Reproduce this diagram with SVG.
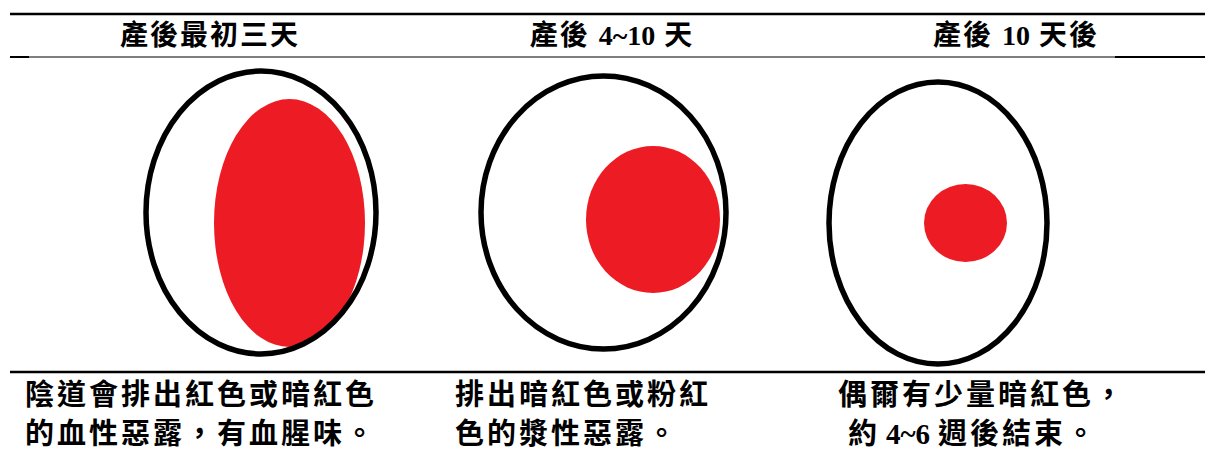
<svg xmlns="http://www.w3.org/2000/svg" width="1205" height="450" viewBox="0 0 1205 450">
<style>
.rule{stroke:#000;fill:none}
.outer{fill:none;stroke:#000;stroke-width:5.5}
.red{fill:#ED1C24}
.hd{font-family:"Liberation Serif","Noto Sans CJK TC",serif;font-weight:bold;font-size:28px;letter-spacing:2px;fill:#000}
.tx{font-family:"Liberation Serif","Noto Sans CJK TC",serif;font-weight:bold;font-size:29px;letter-spacing:3px;fill:#000}
.num{letter-spacing:0}
</style>
<rect width="1205" height="450" fill="#fff"/>
<g id="rules">
<line class="rule" x1="10" y1="14" x2="1205" y2="14" stroke-width="2.5"/>
<line class="rule" x1="10" y1="57" x2="1205" y2="57" stroke-width="1"/>
<line class="rule" x1="10" y1="57" x2="29" y2="57" stroke-width="2"/>
<line class="rule" x1="1115" y1="57" x2="1205" y2="57" stroke-width="2"/>
<line class="rule" x1="10" y1="372" x2="1205" y2="372" stroke-width="2.5"/>
</g>
<g id="headers">
<text class="hd" x="210" y="45" text-anchor="middle">產後最初三天</text>
<text class="hd" x="612" y="45" text-anchor="middle">產後 <tspan class="num">4~10</tspan> 天</text>
<text class="hd" x="1016" y="45" text-anchor="middle">產後 <tspan class="num">10</tspan> 天後</text>
</g>
<g id="stage1">
<ellipse class="red" cx="289.5" cy="223" rx="75.5" ry="124"/>
<ellipse class="outer" cx="261" cy="212.5" rx="115" ry="141.5"/>
</g>
<g id="stage2">
<ellipse class="red" cx="653" cy="219.5" rx="67" ry="73.5"/>
<ellipse class="outer" cx="603.5" cy="212.5" rx="122.5" ry="136.5"/>
</g>
<g id="stage3">
<ellipse class="red" cx="965.5" cy="223" rx="41.5" ry="39"/>
<ellipse class="outer" cx="938" cy="223" rx="109" ry="141"/>
</g>
<g id="desc1">
<text class="tx" x="25" y="405">陰道會排出紅色或暗紅色</text>
<text class="tx" x="25" y="444">的血性惡露，有血腥味。</text>
</g>
<g id="desc2">
<text class="tx" x="455" y="405">排出暗紅色或粉紅</text>
<text class="tx" x="455" y="444">色的漿性惡露。</text>
</g>
<g id="desc3">
<text class="tx" x="838" y="405">偶爾有少量暗紅色，</text>
<text class="tx" y="444"><tspan x="848">約</tspan><tspan class="num" x="886">4~6</tspan><tspan x="938">週後結束。</tspan></text>
</g>
</svg>
